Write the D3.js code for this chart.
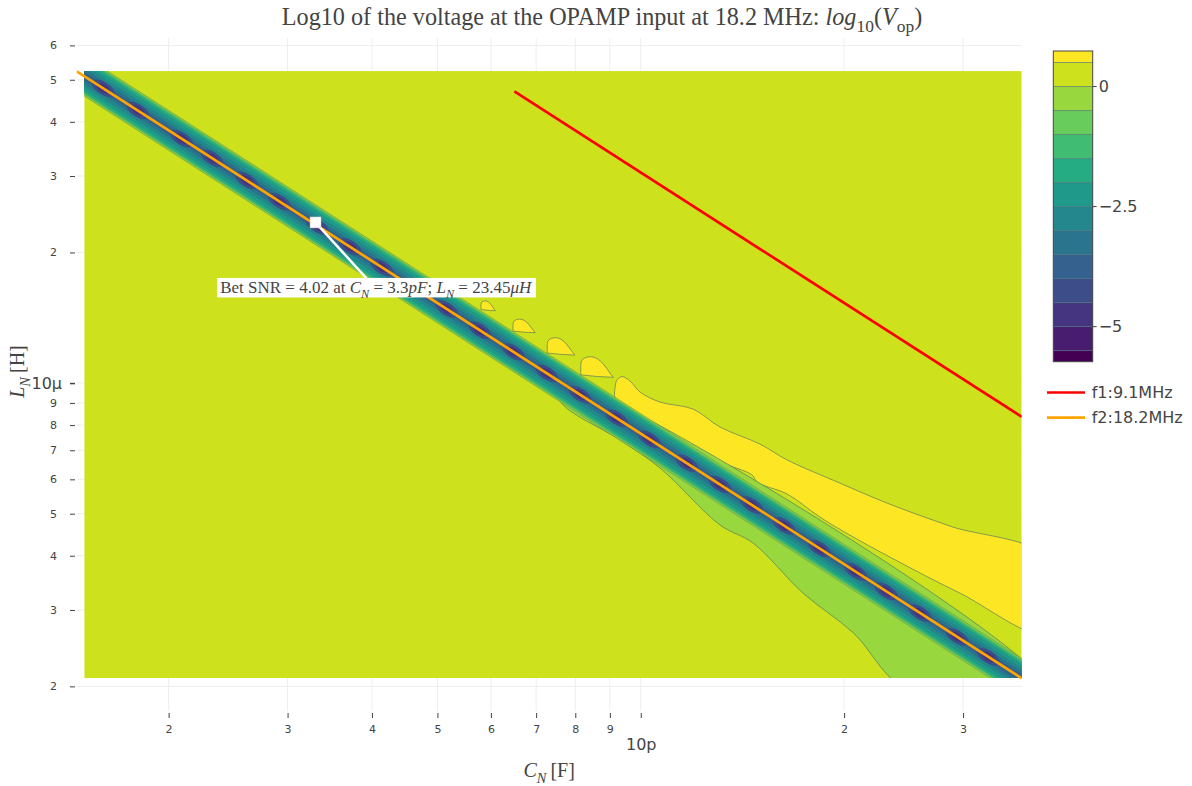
<!DOCTYPE html>
<html>
<head>
<meta charset="utf-8">
<script src="https://cdn.jsdelivr.net/npm/d3@7"></script>
<style>
  body { margin: 0; background: #fff; }
  svg { display: block; }
  .tick text { fill: #444; font-family: "DejaVu Sans", Verdana, sans-serif; }
</style>
</head>
<body>
<svg id="chart" width="1192" height="786"></svg>
<script>
"use strict";

// log10(V_op) contour levels and colour bar range
var levels = [-5.5, -5, -4.5, -4, -3.5, -3, -2.5, -2, -1.5, -1, -0.5, 0, 0.5];
var zRange = [-5.73, 0.74];
var colorTicks = [-5, -2.5, 0];
var colorTickText = ["\u22125", "\u22122.5", "0"];

// axes, C in pF and L in µH
var xRange = [1.462, 36.64];
var yRange = [1.755, 62.4];
var xTickValues = [2, 3, 4, 5, 6, 7, 8, 9, 10, 20, 30];
var xTickText = ["2", "3", "4", "5", "6", "7", "8", "9", "10p", "2", "3"];
var yTickValues = [2, 3, 4, 5, 6, 7, 8, 9, 10, 20, 30, 40, 50, 60];
var yTickText = ["2", "3", "4", "5", "6", "7", "8", "9", "10\u03bc", "2", "3", "4", "5", "6"];

// extent of the simulated grid
var gridC = [1.5, 36.64];
var gridL = [2.09, 52.35];

// resonance lines
var seriesNames = ["f1:9.1MHz", "f2:18.2MHz"];
var f1C = [6.5, 36.64];
var f1L = [47.0, 8.36];
var f2C = [1.462, 36.64];
var f2L = [52.3, 2.087];

// notch along f2: contour level -> half width (decades of L)
var valleyLevels = [0, -0.5, -1, -1.5, -2, -2.5, -3, -3.5];
var valleyHalfWidth = [0.046, 0.0435, 0.041, 0.0375, 0.032, 0.0235, 0.0155, 0.0085];
// deeper pockets sitting on the notch
var dipC = [1.60, 1.80, 2.09, 2.32, 2.61, 2.92, 3.32, 3.71, 4.14, 4.62, 5.16, 5.78, 6.48, 7.26,
            8.13, 9.21, 10.3, 11.7, 13.1, 14.6, 16.3, 18.4, 20.8, 23.1, 25.9, 29.4, 32.7];
var dipLevels = [-4, -4.5, -5];

// regions above 0.5
var lobeC0 = [5.80, 6.47, 7.27, 8.15];
var lobeC1 = [6.09, 6.98, 7.99, 9.11];
var lobeLlo = [14.68, 13.06, 11.60, 10.31];
var lobeLhi = [15.47, 14.04, 12.72, 11.50];
var plateauC = [9.16, 9.22, 9.38, 9.64, 9.98, 10.68, 11.95, 13.10, 15.02, 16.47, 19.72, 23.15, 28.71, 40.0,
                40.0, 29.70, 25.92, 20.62, 18.43, 16.47, 14.87, 14.62, 13.10, 11.43, 9.98, 9.38, 9.16];
var plateauL = [9.74, 10.16, 10.35, 10.11, 9.53, 9.04, 8.71, 7.92, 7.23, 6.65, 5.88, 5.29, 4.68, 3.94,
                2.64, 3.28, 3.65, 4.42, 4.91, 5.55, 5.91, 6.14, 6.58, 7.39, 8.31, 8.85, 9.24];
// region between -0.5 and 0 under the notch
var wedgeC = [7.60, 9.32, 10.68, 13.10, 14.66, 17.39, 20.62, 24.9, 40.0, 7.60];
var wedgeL = [9.09, 7.39, 6.37, 4.71, 4.28, 3.28, 2.66, 1.96, 1.96, 10.07];

// best point
var bestC = 3.3, bestL = 23.45, bestSNR = 4.02;

var svg = d3.select("#chart");
var plot = {left: 76.7, right: 1021.7, top: 38, bottom: 711};
var serif = "'Liberation Serif', 'Times New Roman', serif";
var sans = "'DejaVu Sans', Verdana, sans-serif";

var x = d3.scaleLog().domain(xRange).range([plot.left, plot.right]);
var y = d3.scaleLog().domain(yRange).range([plot.bottom, plot.top]);

// band colour: value at band middle on Viridis over the level span
var zLo = levels[0] - 0.25, zHi = levels[levels.length - 1] + 0.25;
function colorAt(v) {
  return d3.interpolateViridis(Math.max(0, Math.min(1, (v - zLo) / (zHi - zLo))));
}

var defs = svg.append("defs");
defs.append("clipPath").attr("id", "grid-clip").append("rect")
    .attr("x", x(gridC[0])).attr("y", y(gridL[1]))
    .attr("width", x(gridC[1]) - x(gridC[0]))
    .attr("height", y(gridL[0]) - y(gridL[1]));
defs.append("clipPath").attr("id", "plot-clip").append("rect")
    .attr("x", plot.left).attr("y", plot.top)
    .attr("width", plot.right - plot.left).attr("height", plot.bottom - plot.top);

// grid lines
var grid = svg.append("g");
grid.selectAll(".gx").data(xTickValues).join("line")
    .attr("x1", d => x(d)).attr("x2", d => x(d))
    .attr("y1", plot.top).attr("y2", plot.bottom)
    .attr("stroke", "#eee");
grid.selectAll(".gy").data(yTickValues).join("line")
    .attr("y1", d => y(d)).attr("y2", d => y(d))
    .attr("x1", plot.left).attr("x2", plot.right)
    .attr("stroke", "#eee");

// contour field
var field = svg.append("g").attr("clip-path", "url(#grid-clip)");
field.append("rect")
    .attr("x", x(gridC[0])).attr("y", y(gridL[1]))
    .attr("width", x(gridC[1]) - x(gridC[0]))
    .attr("height", y(gridL[0]) - y(gridL[1]))
    .attr("fill", colorAt(0.25));

var edge = "rgba(70,105,100,0.75)";
var smooth = d3.line(d => x(d[0]), d => y(d[1])).curve(d3.curveCatmullRomClosed.alpha(0.5));

field.append("path")
    .datum(d3.zip(plateauC, plateauL))
    .attr("d", smooth)
    .attr("fill", colorAt(0.75)).attr("stroke", edge).attr("stroke-width", 0.8);

function fin(i) {
  var x0 = x(lobeC0[i]), x1 = x(lobeC1[i]), yt = y(lobeLhi[i]), yb = y(lobeLlo[i]);
  var w = x1 - x0, h = yb - yt;
  var p = d3.path();
  p.moveTo(x0, yb - 0.12 * h);
  p.lineTo(x0, yt + 0.4 * h);
  p.quadraticCurveTo(x0, yt, x0 + 0.3 * w, yt);
  p.bezierCurveTo(x0 + 0.62 * w, yt, x1 - 0.2 * w, yb - 0.35 * h, x1, yb);
  p.quadraticCurveTo(x0 + 0.5 * w, yb - 0.02 * h, x0, yb - 0.12 * h);
  p.closePath();
  return p.toString();
}
field.selectAll(".lobe").data(lobeC0).join("path")
    .attr("d", (d, i) => fin(i))
    .attr("fill", colorAt(0.75)).attr("stroke", edge).attr("stroke-width", 0.8);

field.append("path")
    .datum(d3.zip(wedgeC, wedgeL))
    .attr("d", smooth)
    .attr("fill", colorAt(-0.25)).attr("stroke", edge).attr("stroke-width", 0.8);

// the notch: nested strips around f2
valleyLevels.forEach(function(b, i) {
  var k = Math.pow(10, valleyHalfWidth[i]);
  var pts = [[x(f2C[0]), y(f2L[0] * k)], [x(f2C[1]), y(f2L[1] * k)],
             [x(f2C[1]), y(f2L[1] / k)], [x(f2C[0]), y(f2L[0] / k)]];
  field.append("path")
      .attr("d", "M" + pts.join("L") + "Z")
      .attr("fill", colorAt(b - 0.25))
      .attr("stroke", i === 0 ? edge : "rgba(40,60,80,0.15)")
      .attr("stroke-width", 0.5);
});

var lx0 = x(f2C[0]), lx1 = x(f2C[1]), ly0 = y(f2L[0]), ly1 = y(f2L[1]);
var lineY = d3.scaleLinear().domain([lx0, lx1]).range([ly0, ly1]);
var angle = Math.atan2(ly1 - ly0, lx1 - lx0) * 180 / Math.PI;
var ring = [{rx: 12.5, ry: 6.2}, {rx: 7.5, ry: 3.8}, {rx: 2.8, ry: 1.4}];
dipC.forEach(function(c) {
  var cx = x(c), cy = lineY(cx);
  dipLevels.forEach(function(b, j) {
    field.append("ellipse")
        .attr("transform", "translate(" + cx + "," + cy + ") rotate(" + angle + ")")
        .attr("rx", ring[j].rx).attr("ry", ring[j].ry)
        .attr("fill", colorAt(b - 0.25))
        .attr("stroke", "rgba(40,40,90,0.15)").attr("stroke-width", 0.5);
  });
});

// resonance lines
var lines = svg.append("g").attr("clip-path", "url(#plot-clip)");
var lineColors = ["#ff0000", "#ffa500"];
[[f1C, f1L], [f2C, f2L]].forEach(function(s, i) {
  lines.append("path")
      .datum(d3.zip(s[0], s[1]))
      .attr("d", d3.line(d => x(d[0]), d => y(d[1])))
      .attr("fill", "none").attr("stroke", lineColors[i]).attr("stroke-width", 2.7);
});

// axes
var xAxis = svg.append("g")
    .attr("transform", "translate(0," + (plot.bottom + 2) + ")")
    .call(d3.axisBottom(x).tickValues(xTickValues).tickFormat((d, i) => xTickText[i])
      .tickSizeInner(5).tickSizeOuter(0).tickPadding(6));
xAxis.select(".domain").remove();
xAxis.selectAll(".tick line").attr("stroke", "#444");
xAxis.selectAll(".tick text")
    .attr("font-size", (d, i) => xTickText[i].length > 1 ? 16 : 11)
    .attr("y", (d, i) => xTickText[i].length > 1 ? 26 : 12);

var yAxis = svg.append("g")
    .attr("transform", "translate(" + (plot.left - 1.7) + ",0)")
    .call(d3.axisLeft(y).tickValues(yTickValues).tickFormat((d, i) => yTickText[i])
      .tickSizeInner(5).tickSizeOuter(0).tickPadding(6));
yAxis.select(".domain").remove();
yAxis.selectAll(".tick line").attr("stroke", "#444")
    .attr("stroke-width", (d, i) => yTickText[i].length > 1 ? 1.5 : 1);
yAxis.selectAll(".tick text")
    .attr("font-size", (d, i) => yTickText[i].length > 1 ? 16 : 11)
    .attr("x", (d, i) => yTickText[i].length > 1 ? -13 : -18);

// rich text helper for the math labels
function rich(text, parts, fs) {
  var shift = fs * 0.28, down = false;
  parts.forEach(function(p) {
    var t = text.append("tspan").text(p.t);
    if (p.i) t.attr("font-style", "italic");
    if (p.sub) {
      t.attr("font-size", fs * 0.72);
      if (!down) { t.attr("dy", shift); down = true; }
    } else if (down) {
      t.attr("dy", -shift); down = false;
    }
  });
}

// title
var title = svg.append("text")
    .attr("x", 602).attr("y", 25).attr("text-anchor", "middle")
    .attr("font-family", serif).attr("font-size", 24.2).attr("fill", "#444");
rich(title, [
  {t: "Log10 of the voltage at the OPAMP input at 18.2 MHz: "},
  {t: "log", i: true}, {t: "10", sub: true},
  {t: "("}, {t: "V", i: true}, {t: "op", sub: true}, {t: ")"}
], 24.2);

// axis titles
var xt = svg.append("text")
    .attr("x", (plot.left + plot.right) / 2).attr("y", 777).attr("text-anchor", "middle")
    .attr("font-family", serif).attr("font-size", 20).attr("fill", "#444");
rich(xt, [{t: "C", i: true}, {t: "N", i: true, sub: true}, {t: "\u2009[F]"}], 20);

var yt = svg.append("text")
    .attr("transform", "translate(24," + ((plot.top + plot.bottom) / 2 - 3) + ") rotate(-90)")
    .attr("text-anchor", "middle")
    .attr("font-family", serif).attr("font-size", 20).attr("fill", "#444");
rich(yt, [{t: "L", i: true}, {t: "N", i: true, sub: true}, {t: "\u2009[H]"}], 20);

// best point annotation
var bx = x(bestC), by = y(bestL);
var note = svg.append("g");
var lab = {x: bx + 61, y: by + 65};
note.append("line")
    .attr("x1", bx).attr("y1", by).attr("x2", lab.x - 10).attr("y2", lab.y - 9)
    .attr("stroke", "#fff").attr("stroke-width", 2.5);
var boxRect = note.append("rect").attr("fill", "#fff");
var noteText = note.append("text")
    .attr("x", lab.x).attr("y", lab.y + 5.5).attr("text-anchor", "middle")
    .attr("font-family", serif).attr("font-size", 17).attr("fill", "#444");
rich(noteText, [
  {t: "Bet SNR = " + bestSNR + " at "},
  {t: "C", i: true}, {t: "N", i: true, sub: true},
  {t: " = " + bestC}, {t: "pF", i: true}, {t: "; "},
  {t: "L", i: true}, {t: "N", i: true, sub: true},
  {t: " = " + bestL}, {t: "\u03bcH", i: true}
], 17);
var bb = noteText.node().getBBox();
noteText.attr("x", lab.x + (lab.x - (bb.x + bb.width / 2)));
bb = noteText.node().getBBox();
boxRect.attr("x", bb.x - 3).attr("y", lab.y - 9.5)
    .attr("width", bb.width + 6).attr("height", 19.5);
note.append("rect")
    .attr("x", bx - 5.5).attr("y", by - 5.5).attr("width", 11).attr("height", 11)
    .attr("fill", "#fff").attr("stroke", "#bbb").attr("stroke-width", 0.5);

// colour bar
var cb = {x: 1053.3, w: 39.4};
var cy = d3.scaleLinear().domain(zRange).range([361.7, 51]);
var bounds = [zRange[0]].concat(levels, [zRange[1]]);
var bar = svg.append("g");
d3.pairs(bounds).forEach(function(p, i) {
  var mid = i === 0 ? levels[0] - 0.25 : i === bounds.length - 2 ? levels[levels.length - 1] + 0.25 : (p[0] + p[1]) / 2;
  bar.append("rect")
      .attr("x", cb.x).attr("width", cb.w)
      .attr("y", cy(p[1])).attr("height", cy(p[0]) - cy(p[1]))
      .attr("fill", colorAt(mid));
});
bar.selectAll(".lvl").data(levels).join("line")
    .attr("x1", cb.x).attr("x2", cb.x + cb.w)
    .attr("y1", d => cy(d)).attr("y2", d => cy(d))
    .attr("stroke", "rgba(60,100,110,0.6)").attr("stroke-width", 1);
bar.append("rect")
    .attr("x", cb.x).attr("y", cy(zRange[1]))
    .attr("width", cb.w).attr("height", cy(zRange[0]) - cy(zRange[1]))
    .attr("fill", "none").attr("stroke", "#444").attr("stroke-width", 1);
bar.selectAll(".ct").data(colorTicks).join("line")
    .attr("x1", cb.x + cb.w).attr("x2", cb.x + cb.w + 4)
    .attr("y1", d => cy(d)).attr("y2", d => cy(d))
    .attr("stroke", "#444");
bar.selectAll(".cl").data(colorTicks).join("text")
    .attr("x", cb.x + cb.w + 6).attr("y", d => cy(d)).attr("dy", "0.36em")
    .attr("font-family", sans).attr("font-size", 16).attr("fill", "#444")
    .text((d, i) => colorTickText[i]);

// legend
var legend = svg.append("g").attr("transform", "translate(1047,392.5)");
seriesNames.forEach(function(name, i) {
  var row = legend.append("g").attr("transform", "translate(0," + (i * 25.2) + ")");
  row.append("line").attr("x1", 0).attr("x2", 38)
      .attr("stroke", lineColors[i]).attr("stroke-width", 2.7);
  row.append("text").attr("x", 44.7).attr("dy", "0.36em")
      .attr("font-family", sans).attr("font-size", 16).attr("fill", "#444")
      .text(name);
});
</script>
</body>
</html>
